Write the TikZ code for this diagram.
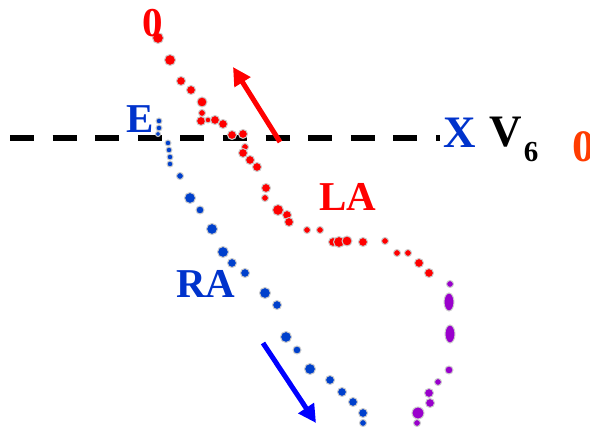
\documentclass[tikz,border=0pt]{standalone}
\usepackage{fontspec}
\setmainfont{Liberation Serif}
\usetikzlibrary{arrows.meta}
\definecolor{lred}{RGB}{255,0,0}
\definecolor{lblue}{RGB}{0,51,204}
\definecolor{dblue}{RGB}{0,64,204}
\definecolor{dpurple}{RGB}{153,0,204}
\definecolor{ored}{RGB}{255,60,0}
\definecolor{ablue}{RGB}{0,0,255}
\tikzset{
  lbl/.style={inner sep=0pt, font=\bfseries\fontsize{41}{41}\selectfont},
  biglbl/.style={inner sep=0pt, font=\bfseries\fontsize{45}{45}\selectfont},
  axisline/.style={line width=5.5pt, dash pattern=on 24pt off 18.6pt},
  vecarrow/.style={line width=5pt, -{Triangle[length=18pt,width=18pt]}},
  dot/.style={draw=gray!40, line width=1pt}
}
\begin{document}
\begin{tikzpicture}[x=1pt,y=-1pt]
\useasboundingbox (0,0) rectangle (590,427);
% axis
\coordinate (axL) at (10,138);
\coordinate (axR) at (440,138);
\draw[axisline] (axL) -- (axR);
% red dots (LA)
\foreach \x/\y/\r in {158/38/5.5, 170/60/5.5, 181/81/4.5, 191/90/4.5, 202/102/5, 202/113/3.5, 201/121/4.5, 208/120/3,
  215/120/4.5, 223/124/4.5, 232/135/4.5, 243/134/4.5, 245/147/3.5, 243/153/4.5, 250/160/4.5, 257/167/4.5, 266/188/4.5,
  265/198/3.5, 278/210/5.5, 287/215/4.5, 289/222/4.5, 307/230/3.5, 320/230/3.5, 333/242/4.5, 339/242/5.5, 347/241/5,
  363/242/4.5, 385/241/3.5, 397/253/3.5, 408/253/3.5, 419/263/4.5, 429/273/4.5}
  \fill[lred, dot] (\x,\y) circle (\r);
% purple dots
\foreach \x/\y/\r in {450/284/3.5, 449/370/4, 438/382/3.5, 429/393/4.5, 430/403/4.5, 418/413/6, 417/423/3.5}
  \fill[dpurple, dot] (\x,\y) circle (\r);
\fill[dpurple, dot] (449,302) ellipse (5 and 9);
\fill[dpurple, dot] (450,334) ellipse (5 and 9);
% blue dots (RA)
\foreach \x/\y/\r in {159/121/3, 159/128/3, 158/134/2.5, 168/143/3, 169/150/3, 170/157/3, 170/164/3,
  180/176/3.5, 190/198/5.5, 200/210/4, 212/229/5.5, 223/252/5.5, 232/263/4.5, 245/273/4.5, 265/293/5.5, 277/305/4.5,
  286/337/5.5, 297/350/4, 310/369/5.5, 330/380/4.5, 342/392/4.5, 353/402/4.5, 363/413/4.5, 363/423/3.5}
  \fill[dblue, dot] (\x,\y) circle (\r);
% arrows
\coordinate (rs) at (280,142);
\coordinate (re) at (233,67);
\draw[vecarrow, lred] (rs) -- (re);
\coordinate (bs) at (263,343);
\coordinate (be) at (316,423);
\draw[vecarrow, ablue] (bs) -- (be);
% labels
\node[lbl, text=lred] (zeroTop) at (153,23) {0};
\node[lbl, text=lblue] (E) at (140,119) {E};
\node[lbl, text=lred] (LA) at (348,197) {LA};
\node[lbl, text=lblue] (RA) at (206,284) {RA};
\node[biglbl, text=lblue] (X) at (460,133) {X};
\node[biglbl, text=black] (V) at (506,132) {V};
\node[inner sep=0pt, font=\bfseries\fontsize{29}{29}\selectfont] (six) at (531,152) {6};
\node[biglbl, text=ored] (zeroR) at (584,147) {0};
\end{tikzpicture}
\end{document}
